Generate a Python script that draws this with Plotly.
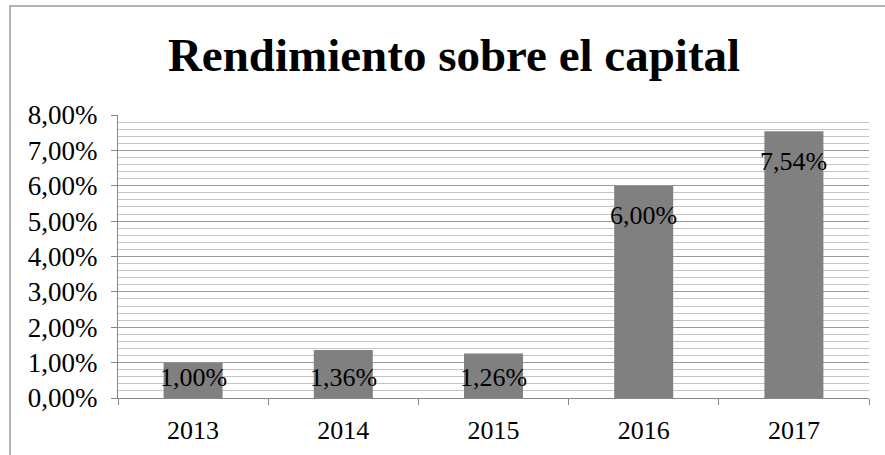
import plotly.graph_objects as go

years = ["2013", "2014", "2015", "2016", "2017"]
values = [0.0100, 0.0136, 0.0126, 0.0600, 0.0754]
labels = ["1,00%", "1,36%", "1,26%", "6,00%", "7,54%"]
ytick_vals = [0.00, 0.01, 0.02, 0.03, 0.04, 0.05, 0.06, 0.07, 0.08]
ytick_text = ["0,00%", "1,00%", "2,00%", "3,00%", "4,00%", "5,00%", "6,00%", "7,00%", "8,00%"]

FONT = "Liberation Serif, Times New Roman, serif"

fig = go.Figure()
fig.add_trace(go.Bar(
    x=years, y=values,
    marker=dict(color="#808080", line=dict(width=0)),
    hoverinfo="skip",
))

# data labels inside the top of each bar (kept above the base for short bars)
for i, (v, t) in enumerate(zip(values, labels)):
    fig.add_annotation(
        x=i, y=max(v - 0.0085, 0.0059), text=t, showarrow=False,
        xref="x", yref="y", yanchor="middle",
        font=dict(family=FONT, size=26, color="#000000"),
    )

fig.update_layout(
    width=885, height=455,
    margin=dict(l=118, r=16, t=115, b=57, autoexpand=False),
    paper_bgcolor="white", plot_bgcolor="white",
    bargap=0.607,
    showlegend=False,
    title=dict(
        text="<b>Rendimiento sobre el capital</b>",
        x=454 / 885, xanchor="center", xref="container",
        y=1 - 55 / 455, yanchor="middle", yref="container",
        font=dict(family=FONT, size=47, color="#000000"),
    ),
    font=dict(family=FONT, size=26, color="#000000"),
)

fig.update_xaxes(
    type="category", categoryorder="array", categoryarray=years,
    range=[-0.5, len(years) - 0.5], automargin=False,
    showline=True, linecolor="#868686", linewidth=1,
    ticks="outside", tickson="boundaries", ticklen=6, tickcolor="#868686",
    tickfont=dict(family=FONT, size=26, color="#000000"), tickangle=0,
    ticklabelstandoff=9,
    showgrid=False, zeroline=False,
)
fig.update_yaxes(
    range=[0, 0.08], automargin=False,
    tickvals=ytick_vals, ticktext=ytick_text,
    showline=True, linecolor="#868686", linewidth=1,
    ticks="outside", ticklen=6, tickcolor="#868686",
    tickfont=dict(family=FONT, size=27, color="#000000"),
    showgrid=True, gridcolor="#9a9a9a", gridwidth=1,
    zeroline=False,
    minor=dict(dtick=0.002, tick0=0, showgrid=True, gridcolor="#c4c4c4", gridwidth=1, ticks=""),
    ticklabelstandoff=8,
)

# chart frame
fig.add_shape(
    type="rect", xref="paper", yref="paper",
    x0=(10 - 118) / 751, x1=(895 - 118) / 751,
    y0=(398 - 465) / 283, y1=1 + (115 - 6) / 283,
    line=dict(color="#9a9a9a", width=1.5), fillcolor="rgba(0,0,0,0)", layer="below",
)

fig.write_html(
    "out.html",
    config={"displayModeBar": False},
    post_script="document.body.style.margin='0';document.body.style.overflow='hidden';",
)
